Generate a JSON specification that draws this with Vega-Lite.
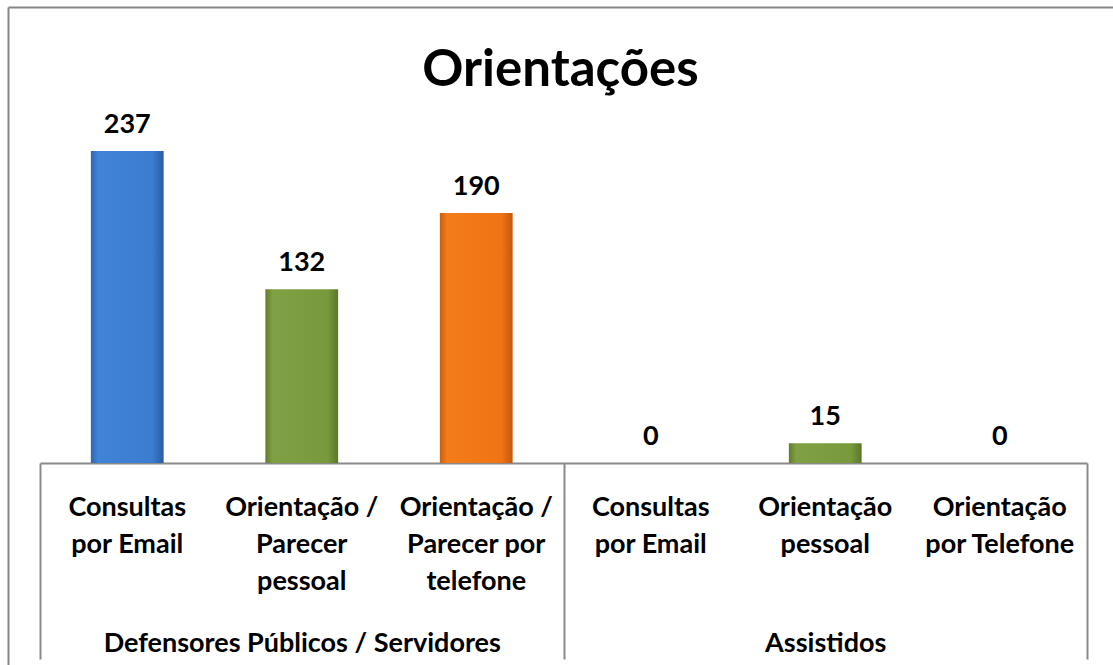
{
  "$schema": "https://vega.github.io/schema/vega-lite/v6.json",
  "width": 1105,
  "height": 658,
  "autosize": {"type": "none"},
  "padding": {"left": 8, "top": 7, "right": 0, "bottom": 0},
  "background": "white",
  "config": {"view": {"stroke": null}, "font": "Lato"},
  "title": {"text": "Orientações", "fontSize": 51, "font": "Lato", "fontWeight": "bold", "color": "black", "anchor": "middle", "frame": "group", "offset": -130, "baseline": "alphabetic"},
  "datasets": {
    "orient": [
      {"id": "D1", "grupo": "Defensores Públicos  / Servidores", "categoria": "Consultas por Email", "tipo": "email", "valor": 237},
      {"id": "D2", "grupo": "Defensores Públicos  / Servidores", "categoria": "Orientação / Parecer pessoal", "tipo": "pessoal", "valor": 132},
      {"id": "D3", "grupo": "Defensores Públicos  / Servidores", "categoria": "Orientação / Parecer por telefone", "tipo": "telefone", "valor": 190},
      {"id": "A1", "grupo": "Assistidos", "categoria": "Consultas por Email", "tipo": "email", "valor": 0},
      {"id": "A2", "grupo": "Assistidos", "categoria": "Orientação pessoal", "tipo": "pessoal", "valor": 15},
      {"id": "A3", "grupo": "Assistidos", "categoria": "Orientação por Telefone", "tipo": "telefone", "valor": 0}
    ],
    "grupos": [
      {"grupo": "Defensores Públicos  / Servidores"},
      {"grupo": "Assistidos"}
    ]
  },
  "resolve": {"scale": {"x": "independent"}, "axis": {"x": "independent"}},
  "layer": [
    {
      "data": {"name": "orient"},
      "encoding": {
        "x": {
          "field": "id", "type": "nominal", "sort": null,
          "scale": {"domain": ["D1", "D2", "D3", "A1", "A2", "A3"], "range": [32, 1079], "paddingInner": 0.583, "paddingOuter": 0.2915},
          "axis": {
            "orient": "bottom", "offset": -202, "title": null,
            "domain": true, "domainColor": "#8a8a8a", "domainWidth": 2,
            "ticks": false, "grid": false, "labelAngle": 0,
            "labelFont": "Lato", "labelFontSize": 27, "labelFontWeight": "bold", "labelColor": "black",
            "labelLineHeight": 37, "labelPadding": 31, "labelBaseline": "top", "labelLimit": 400,
            "labelExpr": "datum.value == 'D1' ? ['Consultas','por Email'] : datum.value == 'D2' ? ['Orientação /','Parecer','pessoal'] : datum.value == 'D3' ? ['Orientação /','Parecer por','telefone'] : datum.value == 'A1' ? ['Consultas','por Email'] : datum.value == 'A2' ? ['Orientação','pessoal'] : ['Orientação','por Telefone']"
          }
        },
        "y": {
          "field": "valor", "type": "quantitative",
          "scale": {"domain": [-153.5, 346.5], "nice": false, "zero": false},
          "axis": {"orient": "left", "title": null, "domain": true, "domainColor": "#868686", "domainWidth": 2, "ticks": false, "labels": false, "grid": false}
        }
      },
      "layer": [
        {
          "mark": {"type": "bar", "clip": false},
          "encoding": {
            "y2": {"datum": 0},
            "fill": {
              "condition": [
                {"test": "datum.tipo === 'email'", "value": {"gradient": "linear", "x1": 0, "y1": 0, "x2": 1, "y2": 0, "stops": [{"offset": 0, "color": "#2E66B0"}, {"offset": 0.1, "color": "#4084D8"}, {"offset": 0.85, "color": "#3B7CCF"}, {"offset": 1, "color": "#2A5C9E"}]}},
                {"test": "datum.tipo === 'telefone'", "value": {"gradient": "linear", "x1": 0, "y1": 0, "x2": 1, "y2": 0, "stops": [{"offset": 0, "color": "#C8600E"}, {"offset": 0.1, "color": "#F47C1A"}, {"offset": 0.85, "color": "#F07414"}, {"offset": 1, "color": "#BF5A0C"}]}}
              ],
              "value": {"gradient": "linear", "x1": 0, "y1": 0, "x2": 1, "y2": 0, "stops": [{"offset": 0, "color": "#5F7C2D"}, {"offset": 0.1, "color": "#80A143"}, {"offset": 0.85, "color": "#799A3C"}, {"offset": 1, "color": "#5A772A"}]}
            }
          }
        },
        {
          "mark": {"type": "text", "font": "Lato", "fontSize": 27, "fontWeight": "bold", "color": "black", "baseline": "alphabetic", "dy": -18},
          "encoding": {"text": {"field": "valor", "type": "quantitative"}}
        }
      ]
    },
    {
      "data": {"name": "grupos"},
      "mark": {"type": "text", "opacity": 0},
      "encoding": {
        "text": {"value": ""},
        "x": {
          "field": "grupo", "type": "nominal", "sort": null,
          "scale": {"domain": ["Defensores Públicos  / Servidores", "Assistidos"], "range": [32, 1079], "paddingInner": 0, "paddingOuter": 0},
          "axis": {
            "orient": "bottom", "offset": -202, "title": null,
            "domain": false, "ticks": true, "tickBand": "extent", "tickSize": 196, "tickColor": "#8a8a8a", "tickWidth": 2,
            "grid": false, "labelAngle": 0, "labelPadding": -29, "labelBaseline": "top", "labelLimit": 600,
            "labelFont": "Lato", "labelFontSize": 27, "labelFontWeight": "bold", "labelColor": "black"
          }
        }
      }
    },
    {
      "data": {"name": "grupos"},
      "mark": {"type": "text", "opacity": 0},
      "encoding": {
        "text": {"value": ""},
        "x": {
          "field": "grupo", "type": "nominal", "sort": null,
          "axis": {"orient": "top", "title": null, "domain": true, "domainColor": "#868686", "domainWidth": 2, "ticks": false, "labels": false, "grid": false}
        }
      }
    }
  ]
}
